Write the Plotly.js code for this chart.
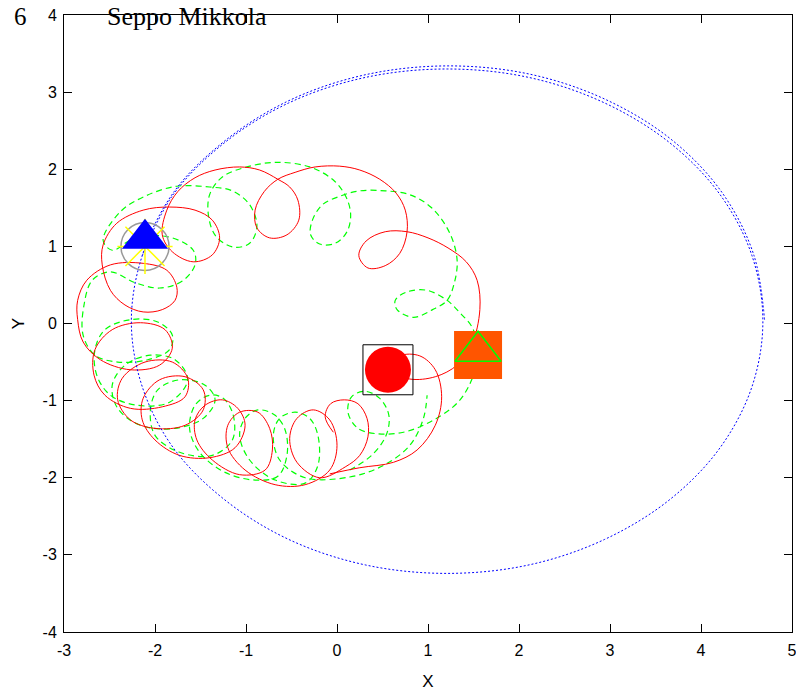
<!DOCTYPE html>
<html><head><meta charset="utf-8">
<script src="https://cdn.plot.ly/plotly-3.0.1.min.js"></script>
<style>html,body{margin:0;padding:0;background:#fff}#chart{width:796px;height:691px}</style>
</head><body><div id="chart"></div>
<script>
// Red body trajectory (solid)
const redX = [-0.08,0.25,0.62,0.88,1.08,1.15,1.08,0.91,0.69,0.56,
  0.80,1.08,1.32,1.48,1.57,1.54,1.42,1.22,1.00,0.77,
  0.53,0.32,0.24,0.34,0.53,0.69,0.77,0.75,0.65,0.47,
  0.25,0.03,-0.24,-0.46,-0.65,-0.80,-0.90,-0.88,-0.74,-0.55,
  -0.42,-0.43,-0.52,-0.65,-0.85,-1.07,-1.34,-1.56,-1.75,-1.87,
  -1.92,-1.81,-1.58,-1.37,-1.29,-1.37,-1.56,-1.84,-2.13,-2.42,
  -2.57,-2.58,-2.49,-2.33,-2.13,-1.92,-1.78,-1.76,-1.87,-2.13,
  -2.49,-2.75,-2.85,-2.85,-2.79,-2.60,-2.27,-1.95,-1.81,-1.89,
  -2.16,-2.47,-2.66,-2.67,-2.55,-2.27,-1.92,-1.67,-1.64,-1.81,
  -2.11,-2.36,-2.41,-2.27,-2.00,-1.67,-1.47,-1.47,-1.67,-1.95,
  -2.13,-2.14,-2.00,-1.73,-1.40,-1.12,-1.01,-1.09,-1.26,-1.45,
  -1.56,-1.54,-1.37,-1.07,-0.79,-0.71,-0.74,-0.87,-1.07,-1.20,
  -1.20,-1.01,-0.68,-0.35,-0.08,0.00,-0.08,-0.26,-0.44,-0.52,
  -0.44,-0.19,0.09,0.25,0.34,0.33,0.23,0.08,-0.07,-0.13,-0.04];
const redY = [-1.95,-1.87,-1.80,-1.64,-1.32,-0.95,-0.60,-0.42,-0.42,-0.60,
  -0.72,-0.69,-0.54,-0.28,0.18,0.56,0.80,0.98,1.11,1.19,
  1.19,1.07,0.88,0.72,0.75,0.91,1.19,1.47,1.69,1.87,
  1.99,2.04,2.03,1.96,1.87,1.71,1.47,1.24,1.11,1.15,
  1.34,1.60,1.77,1.87,1.99,2.03,1.99,1.89,1.71,1.47,
  1.15,0.93,0.80,0.89,1.11,1.34,1.47,1.51,1.47,1.30,
  1.02,0.76,0.43,0.24,0.15,0.18,0.30,0.47,0.69,0.78,
  0.76,0.56,0.30,0.05,-0.24,-0.47,-0.60,-0.54,-0.32,-0.08,
  0.01,-0.08,-0.34,-0.67,-0.93,-1.10,-1.08,-0.95,-0.71,-0.50,
  -0.50,-0.71,-0.99,-1.25,-1.36,-1.32,-1.12,-0.86,-0.69,-0.73,
  -0.97,-1.25,-1.51,-1.71,-1.74,-1.61,-1.32,-1.10,-0.99,-1.06,
  -1.25,-1.51,-1.77,-1.96,-1.90,-1.64,-1.36,-1.15,-1.15,-1.32,
  -1.61,-1.90,-2.09,-2.09,-1.90,-1.58,-1.25,-1.12,-1.23,-1.49,
  -1.80,-2.00,-1.86,-1.71,-1.47,-1.23,-1.04,-0.99,-1.04,-1.21,-1.41];

// Green body trajectory (dashed)
const greenX = [0.14,0.38,0.54,0.57,0.47,0.31,0.16,0.12,0.23,0.44,
  0.73,1.05,1.33,1.48,1.55,1.49,1.35,1.21,0.99,0.77,
  0.64,0.66,0.84,1.05,1.21,1.29,1.32,1.24,1.04,0.80,
  0.53,0.25,0.03,-0.16,-0.27,-0.29,-0.19,-0.02,0.11,0.15,
  0.10,-0.04,-0.30,-0.66,-0.99,-1.26,-1.40,-1.41,-1.33,-1.14,
  -0.96,-0.88,-0.96,-1.15,-1.40,-1.76,-2.11,-2.38,-2.57,-2.47,
  -2.22,-1.84,-1.58,-1.56,-1.70,-1.95,-2.22,-2.49,-2.69,-2.78,
  -2.79,-2.66,-2.41,-2.08,-1.84,-1.81,-1.97,-2.27,-2.55,-2.66,
  -2.64,-2.49,-2.20,-1.84,-1.64,-1.78,-2.05,-2.33,-2.47,-2.41,
  -2.16,-1.78,-1.47,-1.34,-1.45,-1.73,-1.97,-2.05,-2.00,-1.73,
  -1.37,-1.15,-1.14,-1.25,-1.40,-1.56,-1.62,-1.51,-1.23,-0.90,
  -0.65,-0.55,-0.57,-0.68,-0.87,-1.01,-1.07,-0.96,-0.68,-0.35,
  -0.21,-0.21,-0.30,-0.46,-0.63,-0.70,-0.63,-0.35,0.14,0.51,
  0.80,0.95,0.99];
const greenY = [-1.90,-1.71,-1.45,-1.19,-0.97,-0.88,-0.95,-1.15,-1.36,-1.43,
  -1.41,-1.26,-1.02,-0.73,-0.41,-0.06,0.14,0.30,0.43,0.41,
  0.30,0.18,0.08,0.18,0.30,0.53,0.82,1.17,1.50,1.67,
  1.72,1.72,1.65,1.54,1.34,1.15,1.03,1.04,1.19,1.41,
  1.64,1.86,2.03,2.09,2.03,1.90,1.67,1.38,1.13,0.99,
  1.04,1.26,1.54,1.72,1.77,1.78,1.65,1.45,1.08,0.95,
  1.11,1.12,0.95,0.76,0.55,0.46,0.53,0.67,0.56,0.24,
  -0.15,-0.41,-0.50,-0.47,-0.34,-0.15,0.02,0.05,-0.08,-0.34,
  -0.67,-0.93,-1.06,-1.02,-0.73,-0.47,-0.41,-0.54,-0.80,-1.10,
  -1.32,-1.36,-1.23,-0.99,-0.80,-0.73,-0.86,-1.12,-1.45,-1.67,
  -1.71,-1.51,-1.19,-0.97,-0.93,-1.06,-1.36,-1.67,-1.93,-2.03,
  -1.98,-1.71,-1.38,-1.19,-1.12,-1.23,-1.45,-1.77,-2.03,-2.07,
  -1.84,-1.45,-1.23,-1.15,-1.23,-1.45,-1.77,-2.00,-1.99,-1.84,
  -1.58,-1.23,-0.93];

// Blue body orbit (dotted), a little more than one revolution
const blueX = [-2.14,-1.80,-1.24,-0.53,0.31,1.21,2.11,2.94,3.66,4.21,4.56,4.68,
  4.56,4.21,3.66,2.94,2.11,1.21,0.31,-0.53,-1.24,-1.80,-2.14,-2.26,-2.14,
  -1.79,-1.22,-0.51,0.33,1.23,2.13,2.96,3.68,4.23,4.58,4.70];
const blueY = [0.88,1.67,2.34,2.86,3.19,3.30,3.19,2.86,2.34,1.67,0.88,0.03,
  -0.82,-1.61,-2.28,-2.80,-3.13,-3.24,-3.13,-2.80,-2.28,-1.61,-0.82,0.03,0.88,
  1.71,2.38,2.90,3.23,3.34,3.23,2.90,2.38,1.70,0.89,0.03];

// Body markers
const sunX = [-2.11], sunY = [1.00];
const blueBodyX = [-2.11], blueBodyY = [1.10];
const redBodyX = [0.56], redBodyY = [-0.60];
const greenBodyX = [1.55], greenBodyY = [-0.41];
const greenTriX = [1.55], greenTriY = [-0.36];

const xTicks = [-3,-2,-1,0,1,2,3,4,5];
const yTicks = [-4,-3,-2,-1,0,1,2,3,4];

const lineTraces = [
  {x: greenX, y: greenY, mode:'lines', line:{color:'#00ff00', width:1.2, dash:'6px,4px', shape:'spline', smoothing:1}},
  {x: redX, y: redY, mode:'lines', line:{color:'#ff0000', width:1, shape:'spline', smoothing:1}},
  {x: blueX, y: blueY, mode:'lines', line:{color:'#0000ff', width:1, dash:'2px,2px', shape:'spline', smoothing:1}}
];
const markerTraces = [
  {x: sunX, y: sunY, mode:'markers', marker:{symbol:'circle-open', size:48, color:'#999999', line:{color:'#999999', width:1.5}}},
  {x: sunX, y: sunY, mode:'markers', marker:{symbol:'asterisk-open', size:46, color:'#ffff00', line:{color:'#ffff00', width:1.5}}},
  {x: blueBodyX, y: blueBodyY, mode:'markers', marker:{symbol:'triangle-up', size:40, color:'#0000ff', line:{width:0}}},
  {x: redBodyX, y: redBodyY, mode:'markers', marker:{symbol:'circle', size:46, color:'#ff0000', line:{width:0}}},
  {x: redBodyX, y: redBodyY, mode:'markers', marker:{symbol:'square-open', size:50, color:'#000000', line:{color:'#000000', width:1}}},
  {x: greenBodyX, y: greenBodyY, mode:'markers', marker:{symbol:'square', size:48, color:'#ff5500', line:{width:0}}},
  {x: greenTriX, y: greenTriY, mode:'markers', marker:{symbol:'triangle-up-open', size:40, color:'#00ff00', line:{color:'#00ff00', width:1.5}}}
];

const axisCommon = {
  showgrid:false, zeroline:false, showline:true, linecolor:'#000', linewidth:1,
  mirror:'ticks', ticks:'inside', ticklen:8, tickcolor:'#000', tickwidth:1,
  tickfont:{family:'Liberation Sans, Arial, sans-serif', size:16, color:'#000'},
  ticklabeloverflow:'allow',
  fixedrange:true
};

const layout = {
  width:796, height:691,
  margin:{l:64, r:4, t:15, b:59},
  paper_bgcolor:'#fff', plot_bgcolor:'#fff',
  showlegend:false, hovermode:false,
  xaxis: Object.assign({}, axisCommon, {range:[-3,5], tickvals:xTicks, ticktext:xTicks.map(String),
    ticklabelstandoff:4,
    title:{text:'X', font:{family:'Liberation Sans, Arial, sans-serif', size:17, color:'#000'}, standoff:16}}),
  yaxis: Object.assign({}, axisCommon, {range:[-4,4], tickvals:yTicks, ticktext:yTicks.map(String),
    ticklabelstandoff:3,
    title:{text:'Y', font:{family:'Liberation Sans, Arial, sans-serif', size:17, color:'#000'}, standoff:13}}),
  annotations:[
    {text:'6', xref:'paper', yref:'paper', x:-0.072, y:0.998, xanchor:'left', yanchor:'middle', showarrow:false,
     font:{family:'Liberation Serif, DejaVu Serif, serif', size:25, color:'#000'}},
    {text:'Seppo Mikkola', xref:'paper', yref:'paper', x:0.057, y:0.998, xanchor:'left', yanchor:'middle', showarrow:false,
     font:{family:'Liberation Serif, DejaVu Serif, serif', size:26, color:'#000'}}
  ]
};

Plotly.newPlot('chart', lineTraces.concat(markerTraces), layout, {displayModeBar:false, staticPlot:true});
</script></body></html>
